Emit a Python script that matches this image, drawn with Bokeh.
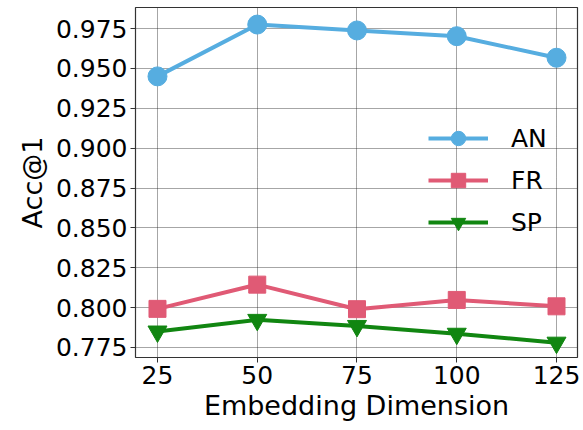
from bokeh.plotting import figure
from bokeh.models import FixedTicker, NumeralTickFormatter, Legend, LegendItem, Range1d
from bokeh.embed import file_html
from bokeh.resources import INLINE

dims = [25, 50, 75, 100, 125]
an = [0.945, 0.9775, 0.9738, 0.9702, 0.9567]
fr = [0.7992, 0.8144, 0.7990, 0.8048, 0.8008]
sp = [0.7850, 0.7923, 0.7885, 0.7836, 0.7780]
y_ticks = [0.775, 0.800, 0.825, 0.850, 0.875, 0.900, 0.925, 0.950, 0.975]
x_ticks = [25, 50, 75, 100, 125]

FONT = "DejaVu Sans"

p = figure(width=583, height=430, output_backend="svg", toolbar_location=None,
           x_range=Range1d(19.49, 130.26), y_range=Range1d(0.7687, 0.9882),
           min_border_left=135, min_border_right=6, min_border_top=7, min_border_bottom=73)

p.background_fill_color = "white"
p.outline_line_color = "#333333"
p.outline_line_width = 1.2

for ax in (p.xaxis[0], p.yaxis[0]):
    ax.major_label_text_font = FONT
    ax.major_label_text_font_size = "25px"
    ax.major_label_text_color = "black"
    ax.axis_label_text_font = FONT
    ax.axis_label_text_font_size = "27px"
    ax.axis_label_text_font_style = "normal"
    ax.axis_label_text_color = "black"
    ax.axis_line_color = None
    ax.major_tick_out = 5
    ax.major_tick_in = 0
    ax.minor_tick_out = 0
    ax.minor_tick_in = 0
    ax.major_tick_line_color = "#333333"
    ax.major_label_standoff = 3

p.xaxis.axis_label = "Embedding Dimension"
p.yaxis.axis_label = "Acc@1"
p.xaxis.axis_label_standoff = 3
p.yaxis.axis_label_standoff = 5
p.xaxis.ticker = FixedTicker(ticks=x_ticks)
p.yaxis.ticker = FixedTicker(ticks=y_ticks)
p.yaxis.formatter = NumeralTickFormatter(format="0.000")

for g in (p.xgrid[0], p.ygrid[0]):
    g.grid_line_color = "#222222"
    g.grid_line_dash = "1 1"
    g.grid_line_width = 1
    g.grid_line_alpha = 0.8

c_an, c_fr, c_sp = "#56ADE0", "#E05A75", "#118611"

l1 = p.line(dims, an, line_color=c_an, line_width=4)
s1 = p.scatter(dims, an, marker="circle", size=19, fill_color=c_an, line_color=c_an)
l2 = p.line(dims, fr, line_color=c_fr, line_width=4)
s2 = p.scatter(dims, fr, marker="square", size=17, fill_color=c_fr, line_color=c_fr)
l3 = p.line(dims, sp, line_color=c_sp, line_width=4)
s3 = p.scatter(dims, sp, marker="inverted_triangle", size=19, fill_color=c_sp, line_color=c_sp)

legend = Legend(items=[LegendItem(label="AN", renderers=[l1, s1]),
                       LegendItem(label="FR", renderers=[l2, s2]),
                       LegendItem(label="SP", renderers=[l3, s3])],
                location=(293, 117), orientation="vertical")
legend.background_fill_alpha = 0
legend.border_line_alpha = 0
legend.margin = 0
legend.padding = 0
legend.spacing = 6
legend.glyph_width = 60
legend.glyph_height = 36
legend.label_height = 36
legend.label_standoff = 23
legend.label_text_font = FONT
legend.label_text_font_size = "25px"
legend.label_text_color = "black"
p.add_layout(legend, "center")

open("out.html", "w").write(file_html(p, INLINE))
